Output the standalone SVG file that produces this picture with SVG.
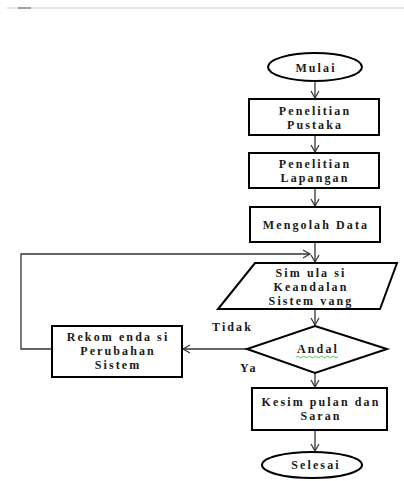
<svg xmlns="http://www.w3.org/2000/svg" width="404" height="481" viewBox="0 0 404 481">
<defs>
<marker id="arr" markerWidth="12" markerHeight="12" refX="9" refY="5" orient="auto" markerUnits="userSpaceOnUse">
<path d="M2,1 L9,5 L2,9" fill="none" stroke="#333" stroke-width="1.2"/>
</marker>
<style>
.sh{fill:#fff;stroke:#000;stroke-width:2}
.cn{fill:none;stroke:#333;stroke-width:1.3}
.t{font-size:12px;fill:#1a1a1a;font-weight:bold;letter-spacing:2.1px;text-anchor:middle}
.lb{font-size:12px;fill:#1a1a1a;font-weight:bold;letter-spacing:2.1px}
</style>
</defs>
<rect width="404" height="481" fill="#fff"/>
<line x1="7" y1="8" x2="404" y2="8" stroke="#d0d0d0" stroke-width="1.2"/>
<line x1="18" y1="8" x2="31" y2="8" stroke="#888" stroke-width="1.5"/>

<g id="connectors">
<line class="cn" x1="315" y1="81" x2="315" y2="98" marker-end="url(#arr)"/>
<line class="cn" x1="315" y1="135" x2="315" y2="152" marker-end="url(#arr)"/>
<line class="cn" x1="315" y1="188" x2="315" y2="206" marker-end="url(#arr)"/>
<line class="cn" x1="315" y1="242" x2="315" y2="262" marker-end="url(#arr)"/>
<line class="cn" x1="315" y1="309" x2="315" y2="325" marker-end="url(#arr)"/>
<line class="cn" x1="247" y1="349" x2="183" y2="349" marker-end="url(#arr)"/>
<polyline class="cn" points="52,349 21,349 21,254 310,254" marker-end="url(#arr)"/>
<line class="cn" x1="315" y1="373" x2="315" y2="387" marker-end="url(#arr)"/>
<line class="cn" x1="315" y1="430" x2="315" y2="451" marker-end="url(#arr)"/>
<text class="lb" font-family="'Liberation Serif','DejaVu Serif',serif" x="212" y="331">Tidak</text>
<text class="lb" font-family="'Liberation Serif','DejaVu Serif',serif" x="240" y="372">Ya</text>
</g>

<g id="mulai" font-family="'Liberation Serif','DejaVu Serif',serif">
<ellipse class="sh" cx="315" cy="67" rx="47" ry="14"/>
<text class="t" x="316" y="72">Mulai</text>
</g>
<g id="pustaka" font-family="'Liberation Serif','DejaVu Serif',serif">
<rect class="sh" x="249" y="99" width="130" height="36"/>
<text class="t" x="315" y="115">Penelitian</text>
<text class="t" x="315" y="129">Pustaka</text>
</g>
<g id="lapangan" font-family="'Liberation Serif','DejaVu Serif',serif">
<rect class="sh" x="249" y="153" width="130" height="35"/>
<text class="t" x="315" y="168">Penelitian</text>
<text class="t" x="315" y="182">Lapangan</text>
</g>
<g id="mengolah" font-family="'Liberation Serif','DejaVu Serif',serif">
<rect class="sh" x="250" y="207" width="130" height="35"/>
<text class="t" x="316" y="229">Mengolah Data</text>
</g>
<g id="simulasi" font-family="'Liberation Serif','DejaVu Serif',serif">
<polygon class="sh" points="255,263 397,263 380,309 218,309"/>
<text class="t" x="311" y="277">Sim ula si</text>
<text class="t" x="311" y="291">Keandalan</text>
<text class="t" x="311" y="305">Sistem vang</text>
</g>
<g id="andal" font-family="'Liberation Serif','DejaVu Serif',serif">
<polygon class="sh" points="315,326 387,349 315,373 247,349"/>
<text class="t" x="318" y="353">Andal</text>
<path d="M296,357 q1.5,-1.5 3,0 t3,0 t3,0 t3,0 t3,0 t3,0 t3,0 t3,0 t3,0 t3,0 t3,0 t3,0 t3,0 t3,0" fill="none" stroke="#3a3" stroke-width="0.8"/>
</g>
<g id="rekomendasi" font-family="'Liberation Serif','DejaVu Serif',serif">
<rect class="sh" x="52" y="326" width="130" height="51"/>
<text class="t" x="118" y="341">Rekom enda si</text>
<text class="t" x="118" y="355">Perubahan</text>
<text class="t" x="118" y="369">Sistem</text>
</g>
<g id="kesimpulan" font-family="'Liberation Serif','DejaVu Serif',serif">
<rect class="sh" x="252" y="388" width="135" height="42"/>
<text class="t" x="321" y="406">Kesim pulan dan</text>
<text class="t" x="321" y="420">Saran</text>
</g>
<g id="selesai" font-family="'Liberation Serif','DejaVu Serif',serif">
<ellipse class="sh" cx="312" cy="465" rx="50" ry="13"/>
<text class="t" x="316" y="469">Selesai</text>
</g>
</svg>
